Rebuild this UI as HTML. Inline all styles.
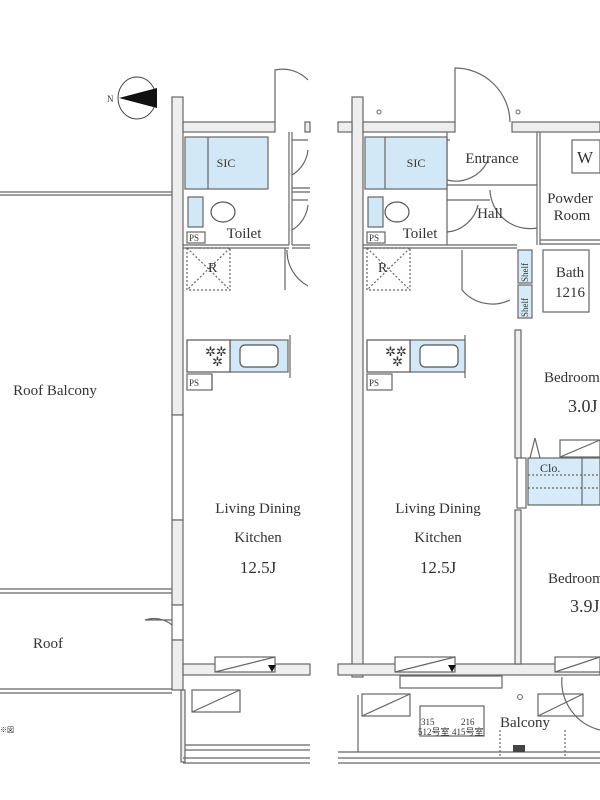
<!DOCTYPE html>
<html><head><meta charset="utf-8"><style>
html,body{margin:0;padding:0;background:#fff;width:600px;height:800px;overflow:hidden}
svg{display:block}
text{font-family:"Liberation Serif",serif;fill:#333}
</style></head><body>
<svg width="600" height="800" viewBox="0 0 600 800" xmlns="http://www.w3.org/2000/svg">
<g fill="none" stroke="#666" stroke-width="1.2">
<!-- Roof balcony left -->
<line x1="0" y1="192" x2="172" y2="192"/><line x1="0" y1="195" x2="172" y2="195"/>
<line x1="0" y1="589" x2="172" y2="589"/><line x1="0" y1="593" x2="172" y2="593"/>
<line x1="0" y1="689" x2="172" y2="689"/><line x1="0" y1="693" x2="172" y2="693"/>
<path d="M172 625 A28 28 0 0 0 145 620 L172 620"/>
</g>
<!-- compass -->
<ellipse cx="137" cy="98" rx="19" ry="21" fill="#fff" stroke="#444"/>
<polygon points="119,98 157,88 157,108" fill="#111"/>
<text x="107" y="102" font-size="9">N</text>

<!-- LEFT UNIT walls -->
<g fill="#eee" stroke="#666" stroke-width="1.2">
<rect x="172" y="97" width="11" height="318"/>
<rect x="172" y="415" width="11" height="105" fill="#fff"/>
<rect x="172" y="520" width="11" height="85"/>
<rect x="172" y="605" width="11" height="35" fill="#fff"/>
<rect x="172" y="640" width="11" height="50"/>
<rect x="183" y="122" width="92" height="10"/>
<rect x="305" y="122" width="5" height="10"/>
<rect x="183" y="664" width="127" height="11"/>
<rect x="181" y="690" width="4" height="72"/>
<!-- right unit -->
<rect x="352" y="97" width="11" height="580"/>
<rect x="338" y="122" width="14" height="10"/>
<rect x="363" y="122" width="92" height="10"/>
<rect x="512" y="122" width="88" height="10"/>
<rect x="338" y="664" width="262" height="11"/>
<rect x="515" y="330" width="6" height="128"/>
<rect x="515" y="510" width="6" height="154"/>
</g>
<g fill="none" stroke="#666" stroke-width="1.2">
<!-- left unit interior -->
<line x1="289" y1="132" x2="289" y2="245"/><line x1="292" y1="132" x2="292" y2="245"/>
<line x1="292" y1="188" x2="310" y2="188"/><line x1="292" y1="192" x2="310" y2="192"/>
<line x1="183" y1="245" x2="289" y2="245"/><line x1="183" y1="248" x2="289" y2="248"/>
<line x1="292" y1="245" x2="310" y2="245"/><line x1="292" y1="248" x2="310" y2="248"/>
<line x1="285" y1="248" x2="285" y2="290"/>
<path d="M275 122 L275 70 A35 35 0 0 1 308 80"/>
<path d="M292 140 L308 140 M292 175 A33 33 0 0 0 308 150"/>
<path d="M292 200 L308 200 M292 230 A33 33 0 0 0 308 205"/>
<path d="M287 250 A40 40 0 0 0 308 286"/>
<line x1="290" y1="335" x2="290" y2="378"/>
<rect x="187" y="248" width="43" height="42" stroke-dasharray="2,2"/>
<path d="M187 248 L230 290 M230 248 L187 290" stroke-dasharray="2,2"/>
<rect x="187" y="232" width="18" height="11"/>
<rect x="187" y="374" width="25" height="16"/>
<rect x="212" y="374" width="0" height="16"/>
<line x1="212" y1="374" x2="212" y2="390"/>
<!-- windows left unit -->
<rect x="215" y="657" width="60" height="15" fill="#fff"/><line x1="215" y1="672" x2="275" y2="657"/>
<rect x="192" y="690" width="48" height="22"/><line x1="192" y1="712" x2="240" y2="690"/>
<line x1="185" y1="745" x2="310" y2="745"/><line x1="185" y1="750" x2="310" y2="750"/><line x1="183" y1="758" x2="310" y2="758"/><line x1="183" y1="763" x2="310" y2="763"/>
<!-- right unit interior -->
<line x1="363" y1="245" x2="517" y2="245"/><line x1="363" y1="248" x2="517" y2="248"/>
<line x1="447" y1="132" x2="447" y2="245"/>
<line x1="447" y1="185" x2="537" y2="185"/>
<line x1="537" y1="132" x2="537" y2="245"/><line x1="540" y1="132" x2="540" y2="245"/>
<line x1="540" y1="240" x2="600" y2="240"/><line x1="540" y1="244" x2="600" y2="244"/>
<rect x="572" y="140" width="28" height="33"/>
<path d="M455 122 L455 68 A55 55 0 0 1 510 122"/>
<path d="M447 140 L450 140 M447 180 A35 35 0 0 0 488 160"/>
<path d="M447 200 L490 200 M447 232 A35 35 0 0 0 478 205"/>
<path d="M490 190 A40 40 0 0 0 537 228"/>
<path d="M462 250 L462 290 A40 40 0 0 0 510 300"/>
<rect x="518" y="250" width="14" height="33" fill="#d6ebf7"/><rect x="518" y="285" width="14" height="33" fill="#d6ebf7"/>
<rect x="543" y="250" width="46" height="62"/>
<rect x="367" y="248" width="43" height="42" stroke-dasharray="2,2"/>
<path d="M367 248 L410 290 M410 248 L367 290" stroke-dasharray="2,2"/>
<rect x="367" y="232" width="18" height="11"/>
<rect x="367" y="374" width="25" height="16"/>
<line x1="465" y1="335" x2="465" y2="378"/>
<rect x="528" y="458" width="72" height="47" fill="#d6ebf7"/>
<line x1="528" y1="475" x2="600" y2="475" stroke-dasharray="2,2"/><line x1="528" y1="488" x2="600" y2="488" stroke-dasharray="2,2"/>
<line x1="582" y1="458" x2="582" y2="505"/>
<rect x="517" y="458" width="9" height="50" fill="#fff"/>
<path d="M530 458 L535 438 L540 458"/>
<rect x="560" y="440" width="40" height="17"/><line x1="560" y1="457" x2="600" y2="440"/>
<!-- right windows -->
<rect x="395" y="657" width="60" height="15" fill="#fff"/><line x1="395" y1="672" x2="455" y2="657"/>
<rect x="555" y="657" width="45" height="15" fill="#fff"/><line x1="555" y1="672" x2="600" y2="657"/>
<rect x="400" y="676" width="102" height="12" fill="#fff"/>
<rect x="362" y="694" width="48" height="22"/><line x1="362" y1="716" x2="410" y2="694"/>
<rect x="538" y="694" width="45" height="22"/><line x1="538" y1="716" x2="583" y2="694"/>
<path d="M562 677 A50 50 0 0 0 600 730"/>
<rect x="420" y="706" width="64" height="30"/>
<line x1="358" y1="695" x2="358" y2="752"/>
<line x1="338" y1="752" x2="600" y2="752"/><line x1="338" y1="758" x2="600" y2="758"/><line x1="338" y1="763" x2="600" y2="763"/>
<line x1="500" y1="730" x2="500" y2="757" stroke-dasharray="2,2"/><line x1="565" y1="730" x2="565" y2="757" stroke-dasharray="2,2"/>
</g>
<rect x="513" y="745" width="12" height="7" fill="#444"/>
<circle cx="379" cy="112" r="2" fill="none" stroke="#666"/><circle cx="518" cy="112" r="2" fill="none" stroke="#666"/>
<circle cx="520" cy="697" r="2.5" fill="none" stroke="#666"/>
<!-- blue fills -->
<g fill="#d2e8f6" stroke="#666" stroke-width="1.2">
<rect x="185" y="137" width="83" height="52"/><line x1="208" y1="137" x2="208" y2="189"/>
<rect x="188" y="197" width="15" height="30"/>
<rect x="230" y="340" width="58" height="32"/>
<rect x="365" y="137" width="82" height="52"/><line x1="385" y1="137" x2="385" y2="189"/>
<rect x="368" y="197" width="15" height="30"/>
<rect x="410" y="340" width="55" height="32"/>
</g>
<g fill="#fff" stroke="#555" stroke-width="1.2">
<ellipse cx="223" cy="212" rx="12" ry="10"/><ellipse cx="397" cy="212" rx="12" ry="10"/>
<rect x="187" y="340" width="43" height="32"/><rect x="367" y="340" width="43" height="32"/>
<rect x="240" y="345" width="38" height="22" rx="5"/><rect x="420" y="345" width="38" height="22" rx="5"/>
</g>
<g font-size="13" fill="#222">
<text x="205" y="356">✲✲</text><text x="212" y="366">✲</text>
<text x="385" y="356">✲✲</text><text x="392" y="366">✲</text>
</g>
<polygon points="268,665 276,665 272,672" fill="#111"/><polygon points="448,665 456,665 452,672" fill="#111"/>
<!-- labels -->
<g font-size="15">
<text x="55" y="395" text-anchor="middle">Roof Balcony</text>
<text x="48" y="648" text-anchor="middle">Roof</text>
<text x="258" y="513" text-anchor="middle">Living Dining</text>
<text x="258" y="542" text-anchor="middle">Kitchen</text>
<text x="258" y="573" text-anchor="middle" font-size="17">12.5J</text>
<text x="438" y="513" text-anchor="middle">Living Dining</text>
<text x="438" y="542" text-anchor="middle">Kitchen</text>
<text x="438" y="573" text-anchor="middle" font-size="17">12.5J</text>
<text x="244" y="238" text-anchor="middle">Toilet</text>
<text x="420" y="238" text-anchor="middle">Toilet</text>
<text x="492" y="163" text-anchor="middle">Entrance</text>
<text x="490" y="218" text-anchor="middle">Hall</text>
<text x="570" y="203" text-anchor="middle">Powder</text>
<text x="572" y="220" text-anchor="middle">Room</text>
<text x="570" y="277" text-anchor="middle">Bath</text>
<text x="570" y="297" text-anchor="middle">1216</text>
<text x="585" y="163" text-anchor="middle" font-size="17">W</text>
<text x="544" y="382">Bedroom</text>
<text x="568" y="412" font-size="18">3.0J</text>
<text x="548" y="583">Bedroom</text>
<text x="570" y="612" font-size="18">3.9J</text>
<text x="525" y="727" text-anchor="middle">Balcony</text>
<text x="208" y="272" font-size="14">R</text><text x="378" y="272" font-size="14">R</text>
</g>
<g font-size="12">
<text x="226" y="167" text-anchor="middle">SIC</text><text x="416" y="167" text-anchor="middle">SIC</text>
<text x="540" y="472">Clo.</text>
</g>
<g font-size="9">
<text x="189" y="241">PS</text><text x="369" y="241">PS</text>
<text x="189" y="386">PS</text><text x="369" y="386">PS</text>
<text x="421" y="725">315</text><text x="418" y="735">512号室</text><text x="461" y="725">216</text><text x="452" y="735">415号室</text>
<text x="0" y="732" font-size="7">※図</text>
</g>
<g font-size="9" transform="translate(528,282) rotate(-90)"><text x="0" y="0">Shelf</text></g>
<g font-size="9" transform="translate(528,317) rotate(-90)"><text x="0" y="0">Shelf</text></g>
</svg>
</body></html>
